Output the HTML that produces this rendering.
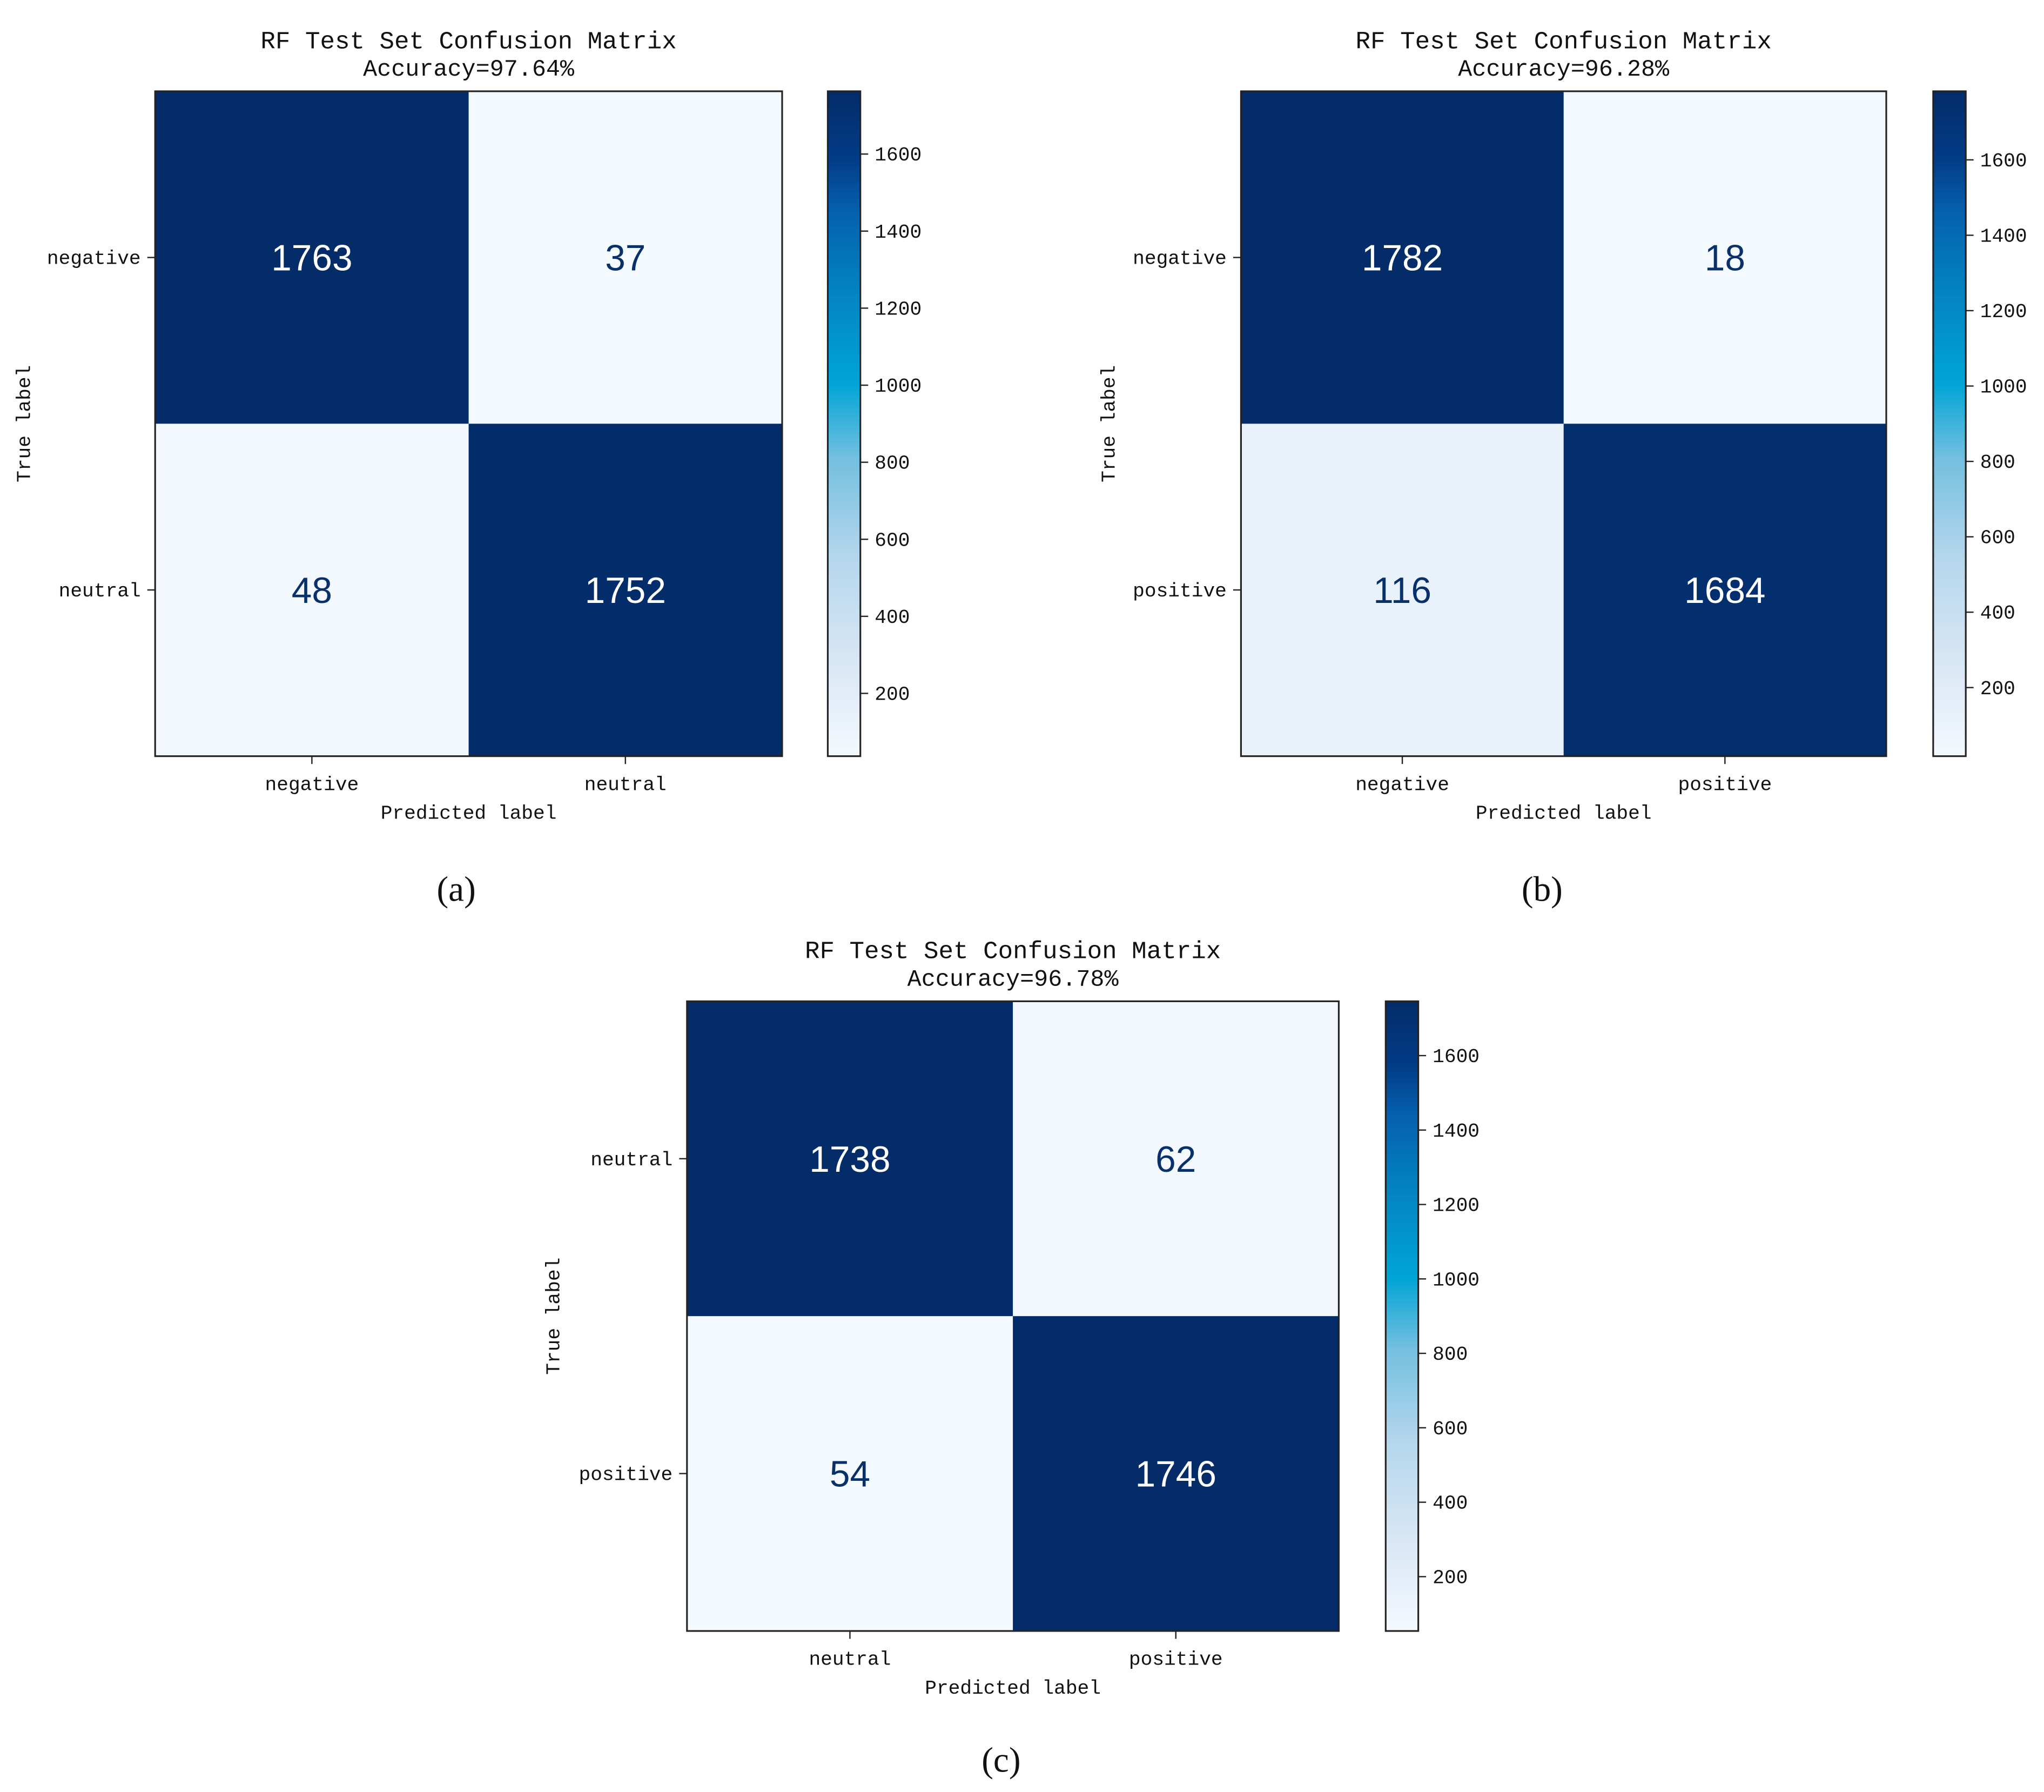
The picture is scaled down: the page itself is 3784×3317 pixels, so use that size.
<!DOCTYPE html>
<html><head><meta charset="utf-8">
<style>
html,body{margin:0;padding:0;background:#fff;}
svg{display:block;}
.lbl{font-family:"WenQuanYi Zen Hei","Liberation Mono",monospace;fill:#111;}
.num{font-family:"Liberation Sans","DejaVu Sans",sans-serif;}
.cap{font-family:"Liberation Serif",serif;fill:#111;}
</style></head>
<body>
<svg id="fig" width="3784" height="3317" viewBox="0 0 1568 1374.5" xmlns="http://www.w3.org/2000/svg">
<defs>
<linearGradient id="cbar" x1="0" y1="1" x2="0" y2="0">
<stop offset="0" stop-color="#f4f9fe"/>
<stop offset="0.12" stop-color="#dde9f6"/>
<stop offset="0.3" stop-color="#b5d6ec"/>
<stop offset="0.45" stop-color="#72bfdf"/>
<stop offset="0.56" stop-color="#00a5d6"/>
<stop offset="0.7" stop-color="#0383c0"/>
<stop offset="0.82" stop-color="#0460ae"/>
<stop offset="0.9" stop-color="#033b86"/>
<stop offset="1" stop-color="#032c69"/>
</linearGradient>
</defs>
<g id="root"></g>
</svg>
<script>
// Panel data
const panelALabels = ["negative", "neutral"];
const panelAValues = [[1763, 37], [48, 1752]];
const panelAAccuracy = "97.64%";
const panelBLabels = ["negative", "positive"];
const panelBValues = [[1782, 18], [116, 1684]];
const panelBAccuracy = "96.28%";
const panelCLabels = ["neutral", "positive"];
const panelCValues = [[1738, 62], [54, 1746]];
const panelCAccuracy = "96.78%";
const colorbarTicks = [200, 400, 600, 800, 1000, 1200, 1400, 1600];

const NS = "http://www.w3.org/2000/svg";
const root = document.getElementById('root');
function mk(tag, attrs, parent, text){
  const e = document.createElementNS(NS, tag);
  for (const k in attrs) e.setAttribute(k, attrs[k]);
  if (text !== undefined) e.textContent = text;
  (parent || root).appendChild(e);
  return e;
}
const cstops = [[0,[244,249,254]],[0.12,[221,233,246]],[0.3,[181,214,236]],[0.45,[114,191,223]],[0.56,[0,165,214]],[0.7,[3,131,192]],[0.82,[4,96,174]],[0.9,[3,50,115]],[1,[3,44,105]]];
function cmap(t){
  t = Math.max(0, Math.min(1, t));
  for (let i = 1; i < cstops.length; i++){
    if (t <= cstops[i][0]){
      const a = cstops[i-1], b = cstops[i];
      const f = (t - a[0]) / (b[0] - a[0]);
      const c = a[1].map((v, j) => Math.round(v + (b[1][j] - v) * f));
      return `rgb(${c[0]},${c[1]},${c[2]})`;
    }
  }
  return 'rgb(3,44,105)';
}

function panel(cfg){
  const {labels, values, acc, x0, x1, y0, y1, cbx, id, cap, capx, capy} = cfg;
  const g = mk('g', {});
  
  
  const flat = values.flat();
  const vmin = Math.min(...flat), vmax = Math.max(...flat);
  const n = labels.length;
  const cw = (x1 - x0) / n, ch = (y1 - y0) / n;
  const xs = i => x0 + cw * i;
  const ys = i => y0 + ch * i;
  const cx = (x0 + x1) / 2;
  const t1 = mk('text', {x: cx, y: y0 - 33, 'text-anchor': 'middle', 'font-size': 19, class: 'lbl'}, g, 'RF Test Set Confusion Matrix');
  
  
  const t2 = mk('text', {x: cx, y: y0 - 12, 'text-anchor': 'middle', 'font-size': 18, class: 'lbl'}, g, 'Accuracy=' + acc);
  
  
  for (let r = 0; r < n; r++) for (let c = 0; c < n; c++){
    const v = values[r][c];
    const t = (v - vmin) / (vmax - vmin);
    const rect = mk('rect', {x: xs(c), y: ys(r), width: cw + 0.5, height: ch + 0.5, fill: cmap(t)}, g);
    
    
    const tx = mk('text', {x: xs(c) + cw / 2, y: ys(r) + ch / 2 + 10, 'text-anchor': 'middle', 'font-size': 28, class: 'num', fill: t > 0.5 ? '#ffffff' : '#08306b'}, g, String(v));
    
    
  }
  const fr = mk('rect', {x: x0, y: y0, width: x1 - x0, height: y1 - y0, fill: 'none', stroke: '#222', 'stroke-width': 1.3}, g);
  
  
  for (let i = 0; i < n; i++){
    const py = ys(i) + ch / 2;
    mk('line', {x1: x0 - 6, x2: x0, y1: py, y2: py, stroke: '#222', 'stroke-width': 1}, g);
    const yl = mk('text', {x: x0 - 11, y: py + 5, 'text-anchor': 'end', 'font-size': 15, class: 'lbl'}, g, labels[i]);
    
    
    const px = xs(i) + cw / 2;
    mk('line', {x1: px, x2: px, y1: y1, y2: y1 + 6, stroke: '#222', 'stroke-width': 1}, g);
    const xl = mk('text', {x: px, y: y1 + 26, 'text-anchor': 'middle', 'font-size': 15, class: 'lbl'}, g, labels[i]);
    
    
  }
  const xt = mk('text', {x: cx, y: y1 + 48, 'text-anchor': 'middle', 'font-size': 15, class: 'lbl'}, g, 'Predicted label');
  
  
  const ymid = (y0 + y1) / 2;
  const yt = mk('text', {x: cfg.ytx, y: ymid, 'text-anchor': 'middle', 'font-size': 15, class: 'lbl', transform: `rotate(-90 ${cfg.ytx} ${ymid})`}, g, 'True label');
  
  
  const cb = mk('rect', {x: cbx, y: y0, width: 25, height: y1 - y0, fill: 'url(#cbar)', stroke: '#222', 'stroke-width': 1.3}, g);
  
  
  const cy = v => y1 - (v - vmin) / (vmax - vmin) * (y1 - y0);
  colorbarTicks.forEach(v => {
    const yy = cy(v);
    if (yy < y0 || yy > y1) return;
    mk('line', {x1: cbx + 25, x2: cbx + 31, y1: yy, y2: yy, stroke: '#222', 'stroke-width': 1}, g);
    const tl = mk('text', {x: cbx + 36, y: yy + 5, 'font-size': 15, class: 'lbl'}, g, String(v));
    
    
  });
  const cp = mk('text', {x: capx, y: capy, 'text-anchor': 'middle', 'font-size': 27, class: 'cap'}, g, cap);
  
  
}

panel({labels: panelALabels, values: panelAValues, acc: panelAAccuracy, x0: 119, x1: 600, y0: 70, y1: 580, cbx: 635, ytx: 23, id: 'a', cap: '(a)', capx: 350, capy: 691});
panel({labels: panelBLabels, values: panelBValues, acc: panelBAccuracy, x0: 952, x1: 1447, y0: 70, y1: 580, cbx: 1483, ytx: 855, id: 'b', cap: '(b)', capx: 1183, capy: 691});
panel({labels: panelCLabels, values: panelCValues, acc: panelCAccuracy, x0: 527, x1: 1027, y0: 768, y1: 1251, cbx: 1063, ytx: 429, id: 'c', cap: '(c)', capx: 768, capy: 1359});
</script>
</body></html>
